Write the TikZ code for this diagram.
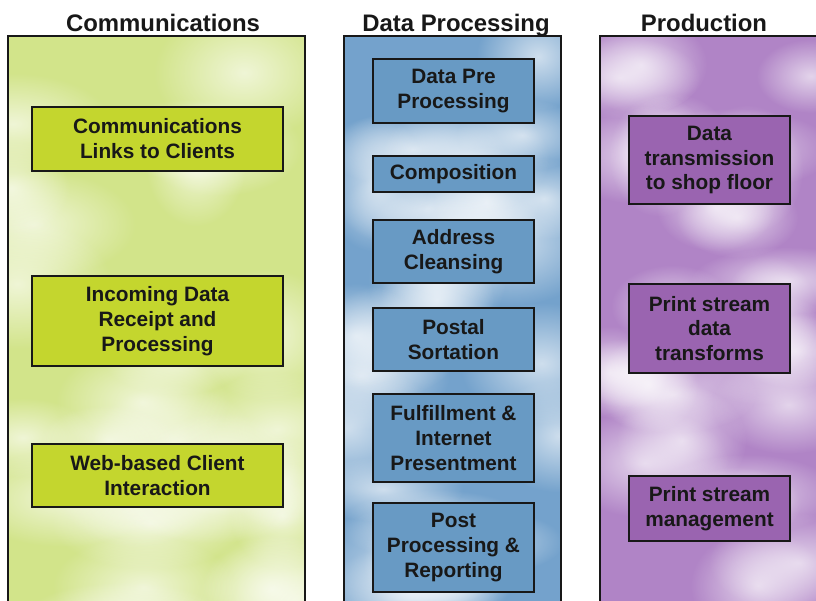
\documentclass[tikz,border=0pt]{standalone}
\usepackage{fontspec}
\setmainfont{Liberation Sans}
\usepackage{tikz}
\usetikzlibrary{fadings,positioning}
\tikzfading[name=cloud, inner color=transparent!0, outer color=transparent!100]
\definecolor{commback}{RGB}{210,228,138}
\definecolor{databack}{RGB}{116,162,204}
\definecolor{prodback}{RGB}{176,132,198}
\definecolor{commbox}{RGB}{196,214,46}
\definecolor{databox}{RGB}{104,154,196}
\definecolor{prodbox}{RGB}{154,100,176}
\definecolor{ink}{RGB}{24,24,24}

\begin{document}
\begin{tikzpicture}[x=0.025cm,y=-0.025cm]
  \tikzstyle{column}=[draw=ink, line width=1.6pt]
  \tikzstyle{head}=[font=\fontsize{17}{20}\selectfont\bfseries, text=ink, anchor=base, inner sep=0pt]
  \tikzstyle{task}=[rectangle, draw=ink, text=ink, line width=1.3pt, align=center, inner sep=0pt,
                    font=\fontsize{14.8}{17.7}\selectfont\bfseries]
  \tikzstyle{puff}=[white, opacity=0.65, path fading=cloud]

  \useasboundingbox (0,0) rectangle (816,600);
  \clip (0,0) rectangle (816,600);

  % columns with cloudy backgrounds
  \foreach \xa/\xb/\col/\seed in {8/305/commback/3, 344/561/databack/5, 600/840/prodback/11}{
    \fill[\col] (\xa,36) rectangle (\xb,620);
    \begin{scope}
      \clip (\xa,36) rectangle (\xb,620);
      \pgfmathsetseed{\seed}
      \foreach \i in {1,...,26}{
        \pgfmathsetmacro{\cx}{\xa+(\xb-\xa)*rnd}
        \pgfmathsetmacro{\cy}{36+580*rnd}
        \pgfmathsetmacro{\rx}{1.2+1.4*rnd}
        \pgfmathsetmacro{\ry}{0.8+0.9*rnd}
        \fill[puff] (\cx,\cy) ellipse [x radius=\rx cm, y radius=\ry cm];
      }
    \end{scope}
    \draw[column] (\xa,36) rectangle (\xb,620);
  }

  \node[head] (comm) at (163,31) {Communications};
  \node[head] (data) at (456,31) {Data Processing};
  \node[head] (prod) at (704,31) {Production};

  \node[task, fill=commbox, minimum width=6.275cm, minimum height=1.6cm]  (links)  at (157.5,139)   {Communications\\Links to Clients};
  \node[task, fill=commbox, minimum width=6.275cm, minimum height=2.25cm] (incoming) at (157.5,321) {Incoming Data\\Receipt and\\Processing};
  \node[task, fill=commbox, minimum width=6.275cm, minimum height=1.58cm] (web)    at (157.5,475.5) {Web-based Client\\Interaction};

  \node[task, fill=databox, minimum width=4.025cm, minimum height=1.6cm]  (pre)    at (453.5,91)    {Data Pre\\Processing};
  \node[task, fill=databox, minimum width=4.025cm, minimum height=0.9cm]  (compo)  at (453.5,174)   {Composition};
  \node[task, fill=databox, minimum width=4.025cm, minimum height=1.58cm] (address) at (453.5,251.5) {Address\\Cleansing};
  \node[task, fill=databox, minimum width=4.025cm, minimum height=1.58cm] (postal) at (453.5,339.5) {Postal\\Sortation};
  \node[task, fill=databox, minimum width=4.025cm, minimum height=2.2cm]  (fulfil) at (453.5,438)   {Fulfillment \&\\Internet\\Presentment};
  \node[task, fill=databox, minimum width=4.025cm, minimum height=2.22cm] (post)   at (453.5,547.5) {Post\\Processing \&\\Reporting};

  \node[task, fill=prodbox, minimum width=4.025cm, minimum height=2.2cm]  (transmit) at (709.5,160)  {Data\\transmission\\to shop floor};
  \node[task, fill=prodbox, minimum width=4.025cm, minimum height=2.22cm] (transform) at (709.5,328.5) {Print stream\\data\\transforms};
  \node[task, fill=prodbox, minimum width=4.025cm, minimum height=1.62cm] (manage) at (709.5,508.5) {Print stream\\management};
\end{tikzpicture}
\end{document}
